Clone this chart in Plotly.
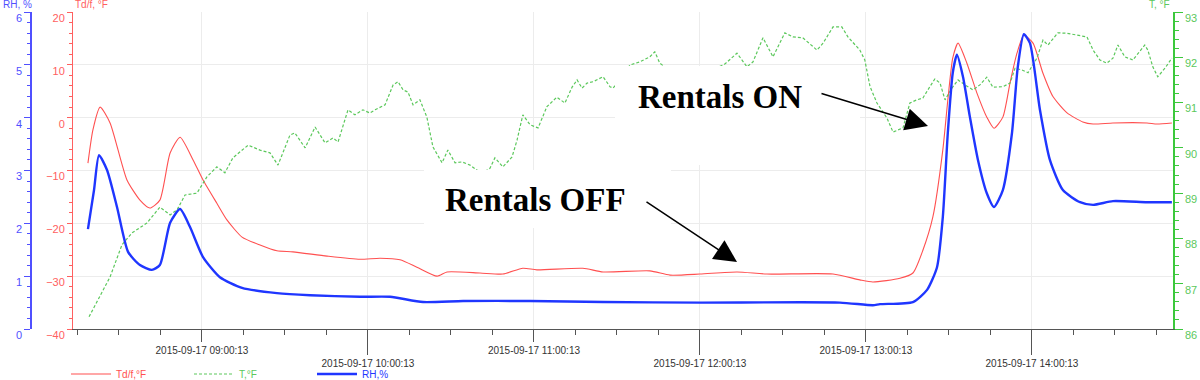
import pandas as pd
import plotly.graph_objects as go

# ---------------- data (minutes after 2015-09-17 08:00:00) ----------------
td_min = [19.0, 20.8, 23.4, 27.0, 33.1, 37.8, 41.4, 45.0, 48.7, 52.3, 57.0, 60.6, 65.6, 69.3,
          74.7, 81.2, 87.3, 93.1, 105.4, 117.3, 124.6, 131.8, 137.9, 145.2, 148.8, 160.7,
          169.0, 176.2, 181.3, 197.9, 205.2, 222.1, 229.4, 240.2, 253.6, 264.4, 288.3,
          298.0, 302.7, 312.5, 317.2, 320.8, 324.4, 328.0, 329.8, 331.6, 333.5, 336.7,
          340.3, 343.9, 346.5, 349.7, 352.3, 354.8, 357.3, 360.6, 364.2, 367.8, 372.9,
          378.6, 382.3, 389.5, 401.8, 405.4, 410.8]
td_val = [-8.6, -2.3, 2.0, -1.0, -11.8, -15.6, -17.1, -15.6, -6.7, -3.7, -8.0, -11.8, -16.2, -19.4,
          -22.6, -24.1, -25.2, -25.4, -26.2, -26.8, -26.6, -26.9, -28.3, -30.0, -29.2, -29.4,
          -29.6, -28.5, -28.8, -28.5, -29.2, -29.0, -29.8, -29.6, -29.2, -29.6, -29.6,
          -30.7, -31.1, -30.4, -29.4, -25.1, -18.8, -6.1, 3.3, 11.3, 14.1, 10.3,
          4.7, 0.1, -2.0, 0.1, 6.6, 12.2, 15.6, 14.1, 8.4, 4.0, 0.9,
          -0.8, -1.2, -1.0, -1.0, -1.2, -1.0]

rh_min = [19.0, 21.2, 23.0, 25.9, 29.5, 33.5, 37.8, 42.1, 45.0, 48.7, 52.3, 55.9, 60.6, 66.7,
          74.7, 87.3, 99.3, 117.3, 128.2, 140.1, 154.6, 178.8, 205.2, 240.2, 290.8, 302.7,
          305.3, 317.2, 322.3, 325.9, 328.0, 329.8, 331.6, 333.1, 335.3, 337.8, 340.7,
          343.9, 346.5, 349.7, 353.0, 355.1, 357.3, 359.5, 363.1, 366.7, 371.4, 377.6,
          382.3, 389.5, 401.8, 410.8]
rh_val = [1.89, 2.63, 3.29, 3.01, 2.31, 1.46, 1.21, 1.12, 1.21, 2.01, 2.27, 1.93, 1.36, 0.98,
          0.78, 0.68, 0.64, 0.61, 0.61, 0.51, 0.53, 0.53, 0.51, 0.50, 0.50, 0.45,
          0.47, 0.51, 0.74, 1.17, 2.12, 3.71, 4.85, 5.19, 4.77, 4.01, 3.20,
          2.57, 2.31, 2.63, 3.71, 4.96, 5.58, 5.41, 4.15, 3.20, 2.63, 2.40,
          2.35, 2.42, 2.40, 2.40]

t_min = [19.4, 27.0, 31.3, 34.9, 40.3, 45.0, 48.7, 51.2, 54.1, 58.4, 62.0, 65.6, 68.5, 71.4,
         76.9, 81.2, 84.8, 87.7, 92.0, 93.8, 97.5, 101.1, 104.7, 107.6, 109.4, 113.0, 115.5,
         118.4, 120.9, 122.8, 126.4, 129.3, 131.1, 132.9, 134.7, 136.5, 139.0, 141.5, 143.7,
         147.0, 149.1, 151.7, 154.2, 157.1, 159.6, 161.8, 164.3, 166.1, 169.0, 172.3, 174.1,
         176.2, 178.8, 181.7, 184.9, 188.5, 191.4, 194.0, 195.8, 197.6, 199.4, 201.6, 205.2,
         207.7, 208.8, 211.3, 214.9, 218.5, 222.1, 223.9, 225.7, 229.4, 234.8, 240.2, 245.6,
         249.2, 252.1, 253.6, 257.2, 259.4, 263.0, 266.6, 270.9, 273.8, 277.4, 282.5, 284.7,
         288.3, 291.5, 293.7, 298.0, 299.8, 301.7, 304.2, 307.8, 310.0, 313.6, 316.1, 318.6,
         320.8, 323.3, 325.1, 327.0, 328.8, 331.3, 333.5, 336.0, 338.9, 341.4, 343.9, 346.1,
         349.7, 352.3, 354.1, 356.6, 358.8, 362.0, 364.2, 366.0, 369.6, 372.9, 376.5, 380.1,
         382.3, 384.8, 387.3, 389.5, 391.3, 393.8, 396.7, 401.0, 402.1, 403.9, 405.7, 408.3,
         410.8]
t_val = [86.27, 87.15, 87.86, 88.12, 88.34, 88.69, 88.52, 88.63, 88.96, 89.00, 89.36, 89.58, 89.45, 89.78,
         90.06, 89.95, 89.89, 89.62, 90.28, 90.33, 90.00, 90.46, 90.11, 90.22, 90.13, 90.84, 90.73,
         90.84, 90.77, 90.84, 90.95, 91.39, 91.46, 91.28, 91.23, 90.95, 91.06, 90.68, 90.02,
         89.67, 89.95, 89.67, 89.69, 89.62, 89.51, 89.45, 89.55, 89.78, 89.58, 89.80, 90.17,
         90.73, 90.51, 90.44, 90.91, 91.12, 90.99, 91.34, 91.50, 91.32, 91.43, 91.46, 91.57,
         91.35, 91.32, 91.50, 91.83, 91.90, 92.01, 92.12, 91.87, 91.70, 91.55, 91.65, 91.75,
         91.85, 92.01, 92.09, 91.79, 91.90, 92.43, 92.01, 92.54, 92.45, 92.43, 92.16, 92.31,
         92.67, 92.67, 92.45, 92.16, 91.94, 91.35, 90.99, 90.66, 90.35, 90.44, 90.99, 91.06,
         91.10, 91.35, 91.52, 91.43, 91.06, 91.32, 91.50, 91.39, 91.28, 91.39, 91.56, 91.34,
         91.35, 91.43, 91.76, 91.72, 91.66, 91.98, 92.38, 92.27, 92.54, 92.53, 92.49, 92.45,
         92.16, 91.94, 91.87, 91.98, 92.27, 92.01, 91.94, 92.27, 92.16, 91.79, 91.57, 91.76,
         91.98]

upper_ticks = ["2015-09-17 09:00:13", "2015-09-17 11:00:13", "2015-09-17 13:00:13"]
lower_ticks = ["2015-09-17 10:00:13", "2015-09-17 12:00:13", "2015-09-17 14:00:13"]
x_range = ["2015-09-17 08:13:36", "2015-09-17 14:51:12"]

# ---------------- styling ----------------
RED = "#ff5050"
GREEN = "#5cc85c"
BLUE = "#1f36ff"
RED_AX = "#ff6060"
GREEN_AX = "#3cc83c"
BLUE_AX = "#5050ff"
GRID = "#ececec"
FONT = "Liberation Sans, Arial, sans-serif"

base = pd.Timestamp("2015-09-17 08:00:00")
def tx(m):
    return [base + pd.Timedelta(minutes=v) for v in m]

fig = go.Figure()
fig.add_trace(go.Scatter(x=tx(td_min), y=td_val, mode="lines", xaxis="x", yaxis="y",
                         line=dict(color=RED, width=1.1, shape="spline", smoothing=0.6),
                         name=f'<span style="color:{RED}">Td/f,°F</span>'))
fig.add_trace(go.Scatter(x=tx(t_min), y=t_val, mode="lines", xaxis="x", yaxis="y2",
                         line=dict(color=GREEN, width=1.2, dash="3px,2px"),
                         name=f'<span style="color:{GREEN}">T,°F</span>'))
fig.add_trace(go.Scatter(x=tx(rh_min), y=rh_val, mode="lines", xaxis="x2", yaxis="y3",
                         line=dict(color=BLUE, width=2.4, shape="spline", smoothing=0.6),
                         name=f'<span style="color:{BLUE}">RH,%</span>'))

L, R, T, B = 31, 27, 12, 51
W, H = 1200, 380
pw, ph = W - L - R, H - T - B
def px(xp):
    return (xp - L) / pw
def py(yp):
    return (H - B - yp) / ph

dom0 = px(73)

xcommon = dict(type="date", range=x_range, domain=[dom0, 1], automargin=False,
               ticks="outside", tickcolor="#555555", tickwidth=1,
               tickfont=dict(family=FONT, size=10, color="#333333"),
               showgrid=True, gridcolor=GRID, gridwidth=1, zeroline=False)

fig.update_layout(
    width=W, height=H,
    margin=dict(l=L, r=R, t=T, b=B, autoexpand=False),
    paper_bgcolor="white", plot_bgcolor="white",
    font=dict(family=FONT, size=11),
    showlegend=True,
    legend=dict(orientation="h", x=px(66), y=py(374), xanchor="left", yanchor="middle",
                entrywidth=68, entrywidthmode="pixels",
                font=dict(family=FONT, size=10), bgcolor="rgba(0,0,0,0)",
                itemwidth=40, tracegroupgap=0),
    xaxis=dict(**xcommon, tickvals=upper_ticks, ticktext=upper_ticks, ticklen=12,
               showline=True, linecolor="#555555", linewidth=1, anchor="y",
               minor=dict(tick0="2015-09-17 08:15:13", dtick=900000, ticklen=5,
                          tickcolor="#555555", ticks="outside", showgrid=False)),
    xaxis2=dict(**xcommon, tickvals=lower_ticks, ticktext=lower_ticks, ticklen=25,
                overlaying="x", anchor="y", side="bottom", showline=False),
    yaxis=dict(range=[-40, 20], dtick=10, tick0=0, side="left", anchor="x", automargin=False,
               ticks="outside", ticklen=5, tickcolor=RED_AX, showline=True, linecolor=RED_AX,
               tickfont=dict(family=FONT, size=11, color=RED_AX), ticklabelshift=6,
               showgrid=True, gridcolor=GRID, zeroline=False,
               minor=dict(dtick=2, ticklen=3, tickcolor=RED_AX, ticks="outside", showgrid=False)),
    yaxis2=dict(range=[86, 93], dtick=1, tick0=86, side="right", overlaying="y", anchor="x",
                automargin=False,
                ticks="outside", ticklen=8, tickcolor=GREEN_AX, showline=True, linecolor=GREEN_AX,
                linewidth=1.5,
                tickfont=dict(family=FONT, size=11, color=GREEN), ticklabelshift=6,
                showgrid=False, zeroline=False,
                minor=dict(dtick=0.2, ticklen=4, tickcolor=GREEN_AX, ticks="outside", showgrid=False)),
    yaxis3=dict(range=[0, 6], dtick=1, tick0=0, side="left", overlaying="y", anchor="free",
                position=0, automargin=False,
                ticks="outside", ticklen=6, tickcolor=BLUE_AX, showline=True,
                linecolor=BLUE_AX, linewidth=1.5,
                tickfont=dict(family=FONT, size=11, color=BLUE_AX), ticklabelshift=6,
                showgrid=False, zeroline=False,
                minor=dict(dtick=0.2, ticklen=3, tickcolor=BLUE_AX, ticks="outside", showgrid=False)),
)

# white boxes behind the callout labels
for (x0, x1, y0, y1) in [(615, 860, 66, 165), (424, 671, 170, 228)]:
    fig.add_shape(type="rect", xref="paper", yref="paper",
                  x0=px(x0), x1=px(x1), y0=py(y1), y1=py(y0),
                  fillcolor="white", line=dict(width=0), layer="above")

ann_font = dict(family="Liberation Serif, Times New Roman, serif", size=33, color="black")
fig.add_annotation(xref="paper", yref="paper", x=px(720), y=py(97), text="<b>Rentals ON</b>",
                   showarrow=False, font=ann_font, xanchor="center", yanchor="middle")
fig.add_annotation(xref="paper", yref="paper", x=px(535), y=py(200), text="<b>Rentals OFF</b>",
                   showarrow=False, font=ann_font, xanchor="center", yanchor="middle")
for (tipx, tipy, tailx, taily) in [(928, 126, 820, 93), (737, 262, 645, 201)]:
    fig.add_annotation(xref="paper", yref="paper", x=px(tipx), y=py(tipy), text="",
                       showarrow=True, arrowhead=2, arrowsize=3, arrowwidth=1.5,
                       arrowcolor="black", ax=tailx - tipx, ay=taily - tipy,
                       axref="pixel", ayref="pixel", standoff=0)

# axis titles
title_font = dict(family=FONT, size=10)
fig.add_annotation(xref="paper", yref="paper", x=px(1), y=py(5), text="RH, %",
                   showarrow=False, xanchor="left", yanchor="middle",
                   font=dict(**title_font, color=BLUE_AX))
fig.add_annotation(xref="paper", yref="paper", x=px(73), y=py(5), text="Td/f, °F",
                   showarrow=False, xanchor="left", yanchor="middle",
                   font=dict(**title_font, color=RED_AX))
fig.add_annotation(xref="paper", yref="paper", x=px(1172), y=py(5), text="T, °F",
                   showarrow=False, xanchor="right", yanchor="middle",
                   font=dict(**title_font, color=GREEN))

fig.write_html("out.html")
